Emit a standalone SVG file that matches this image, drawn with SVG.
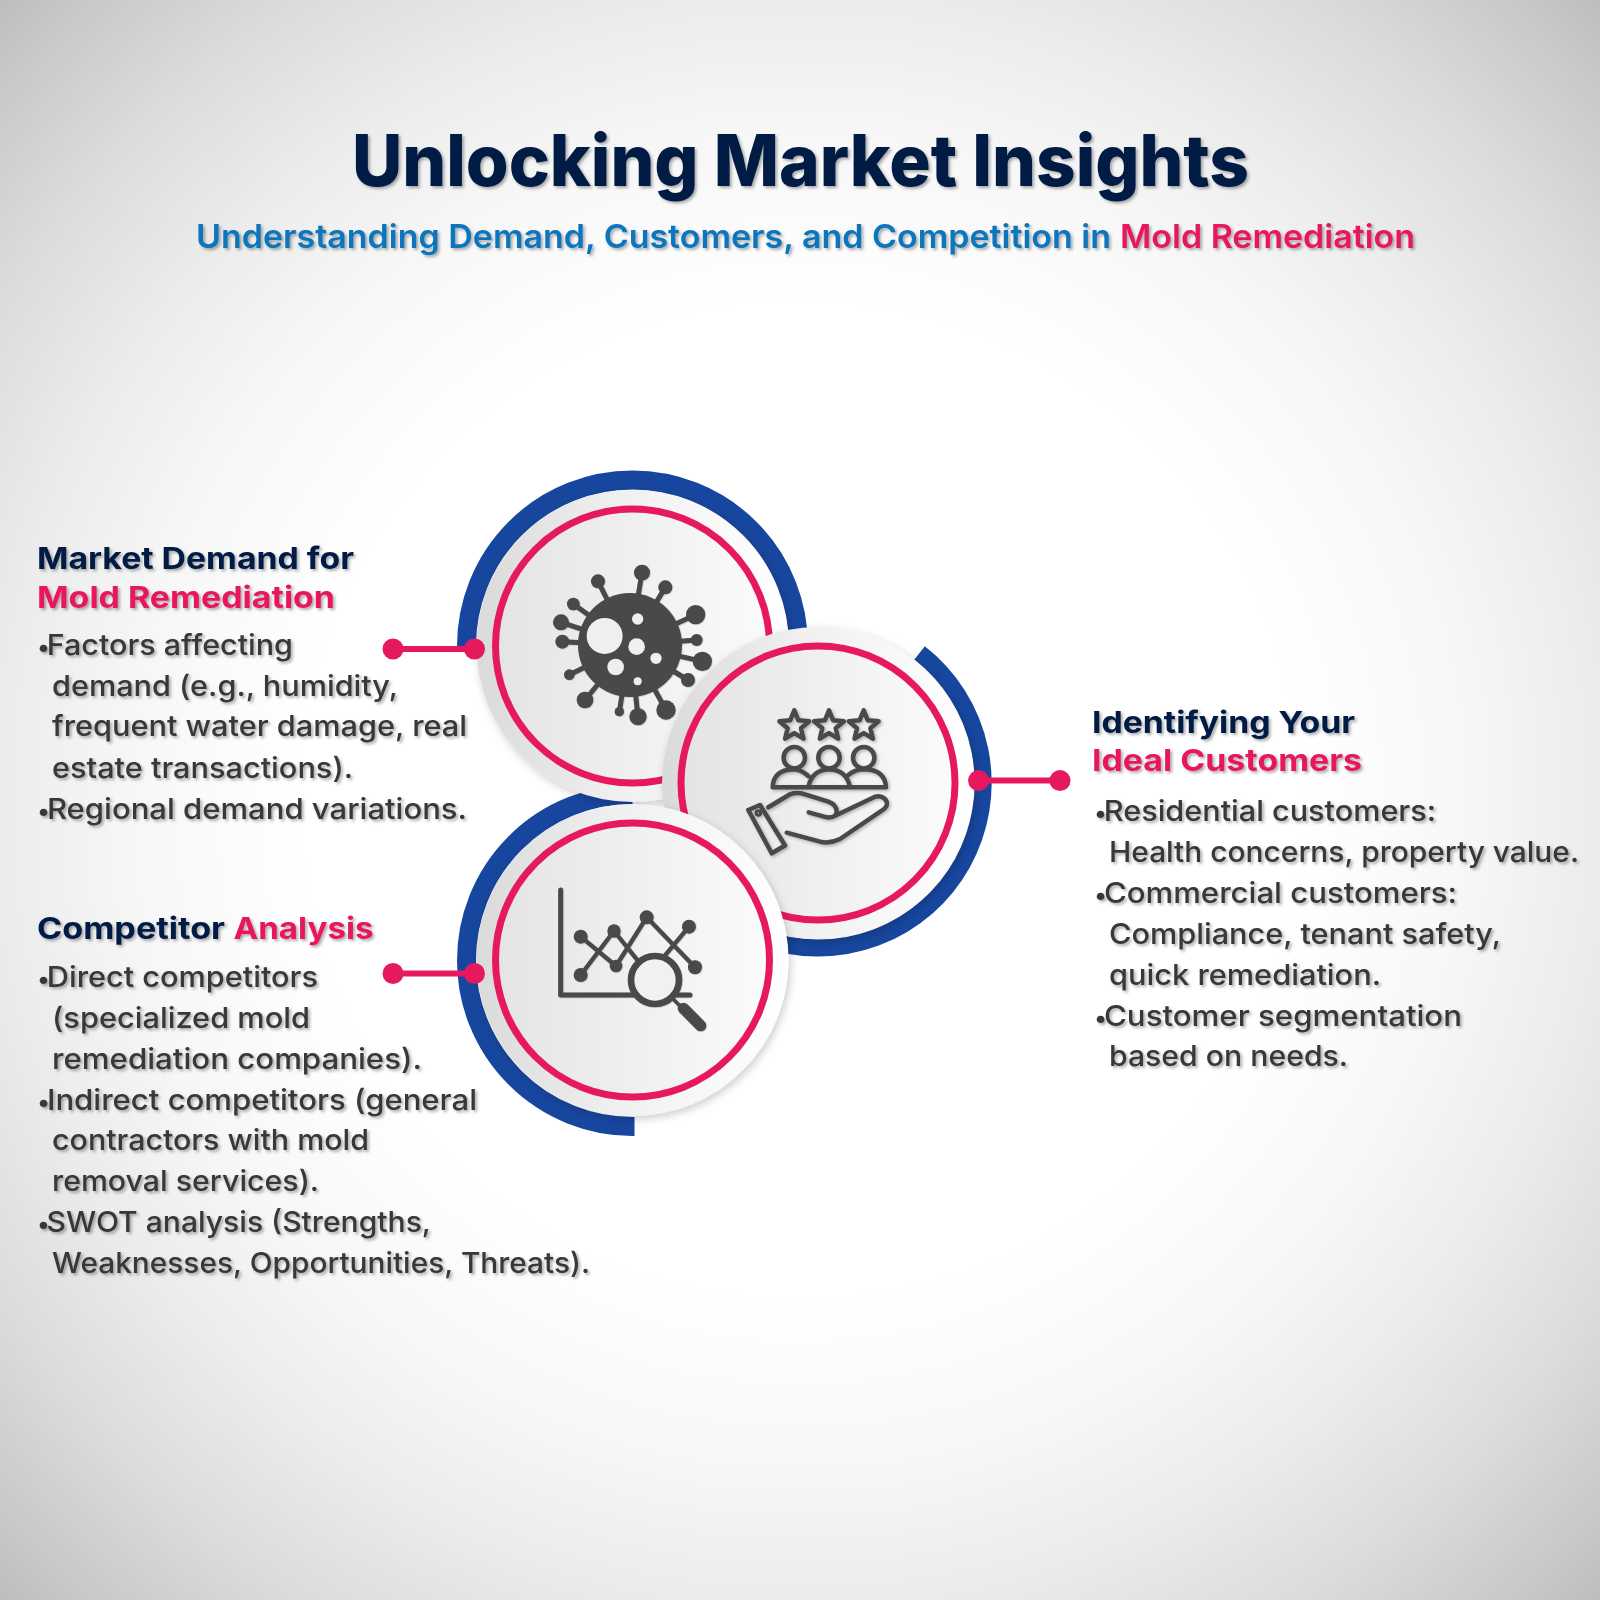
<svg xmlns="http://www.w3.org/2000/svg" width="1600" height="1600" viewBox="0 0 1600 1600">
<style>
text{font-family:Inter,"Noto Sans","Liberation Sans",sans-serif}
.title{font-size:71px;font-weight:800;fill:#021a44;filter:url(#ts)}
.sub{font-size:33px;font-weight:600;filter:url(#ts)}
.blue{fill:#0b74bb}
.navy{fill:#021a44}
.pink{fill:#e6195f}
.h{font-size:30px;font-weight:700;filter:url(#ts)}
.b{font-size:29px;font-weight:500;fill:#373737;filter:url(#ts)}
.bl{font-size:23px;letter-spacing:-3px}
.ring{fill:none;stroke:#17469e;stroke-width:19}
.disc{fill:url(#dg);filter:url(#ds)}
.inner{fill:url(#ig);stroke:#e6195f;stroke-width:7}
.dot{fill:#e6195f}
.link{stroke:#e6195f;stroke-width:6;fill:none}
.ic{fill:none;stroke:#484848;stroke-width:4.500;stroke-linejoin:round;stroke-linecap:round}
</style>
<defs>
<radialGradient id="bg" gradientUnits="userSpaceOnUse" cx="800" cy="800" r="1131">
<stop offset="0" stop-color="#fff"/><stop offset=".44" stop-color="#fff"/><stop offset=".59" stop-color="#f7f7f7"/><stop offset=".707" stop-color="#ececec"/><stop offset=".83" stop-color="#dcdcdc"/><stop offset=".96" stop-color="#c6c6c6"/><stop offset="1" stop-color="#bdbdbd"/>
</radialGradient>
<linearGradient id="dg" x1="0" y1="0" x2="1" y2="0"><stop offset="0" stop-color="#dadada"/><stop offset=".45" stop-color="#f0f0f0"/><stop offset="1" stop-color="#fff"/></linearGradient>
<linearGradient id="ig" x1="0" y1="0" x2="1" y2="0"><stop offset="0" stop-color="#e4e4e4"/><stop offset="1" stop-color="#fbfbfb"/></linearGradient>
<filter id="ds" x="-20%" y="-20%" width="140%" height="140%"><feDropShadow dx="2" dy="3" stdDeviation="4" flood-color="#000" flood-opacity=".2"/></filter>
<filter id="ts" x="-5%" y="-20%" width="110%" height="150%"><feDropShadow dx="2" dy="2" stdDeviation="1.6" flood-color="#000" flood-opacity=".33"/></filter>
<filter id="is" x="-10%" y="-10%" width="125%" height="125%"><feDropShadow dx="1.500" dy="1.500" stdDeviation="1.500" flood-color="#000" flood-opacity=".28"/></filter>
<polygon id="star" points="0,-15.700 4.150,-5.700 14.900,-4.800 6.700,2.200 9.200,12.700 0,7.100 -9.200,12.700 -6.700,2.200 -14.900,-4.800 -4.150,-5.700"/>
</defs>
<rect width="1600" height="1600" fill="url(#bg)"/>

<g id="header">
<text class="title" x="352" y="186" textLength="897" lengthAdjust="spacingAndGlyphs">Unlocking Market Insights</text>
<text class="sub blue" x="196" y="248" textLength="915" lengthAdjust="spacingAndGlyphs">Understanding Demand, Customers, and Competition in</text>
<text class="sub pink" x="1120" y="248" textLength="295" lengthAdjust="spacingAndGlyphs">Mold Remediation</text>
</g>

<g id="rings">
<path class="ring" d="M466.500 646A166 166 0 0 1 798.500 646"/>
<path class="ring" style="stroke-width:17" d="M919.600 652.900A165 165 0 0 1 761.500 938"/>
<path class="ring" d="M634.500 1126.500H632.500A166 166 0 0 1 632.500 794.500"/>
</g>

<g id="node-market">
<circle class="disc" cx="632.500" cy="646" r="156"/>
<circle class="inner" cx="632.500" cy="646" r="137"/>
<g id="icon-virus" transform="translate(530 540) scale(.3333)" filter="url(#is)">
<g stroke="#484848" stroke-width="15" stroke-linecap="round">
<path d="M300 315L336 98M300 315L204 124M300 315L406 142M300 315L130 192M300 315L93 247M300 315L97 305M300 315L497 224M300 315L500 300M300 315L517 364M300 315L474 420M300 315L408 510M300 315L324 530M300 315L268 515M300 315L165 480M300 315L118 404"/>
</g>
<g fill="#484848">
<circle cx="300" cy="315" r="156"/>
<circle cx="336" cy="98" r="24"/><circle cx="204" cy="124" r="21"/><circle cx="406" cy="142" r="21"/><circle cx="130" cy="192" r="19"/><circle cx="93" cy="247" r="24"/><circle cx="97" cy="305" r="21"/><circle cx="497" cy="224" r="29"/><circle cx="500" cy="300" r="18"/><circle cx="517" cy="364" r="29"/><circle cx="474" cy="420" r="21"/><circle cx="408" cy="510" r="29"/><circle cx="324" cy="530" r="26"/><circle cx="268" cy="515" r="14"/><circle cx="165" cy="480" r="25"/><circle cx="118" cy="404" r="16"/>
</g>
<g fill="#efefef">
<circle cx="224" cy="288" r="54"/><circle cx="323" cy="237" r="17"/><circle cx="320" cy="320" r="25"/><circle cx="378" cy="355" r="17"/><circle cx="257" cy="381" r="25"/><circle cx="323" cy="424" r="12"/>
</g>
</g>
<text class="h navy" x="37" y="569" textLength="317" lengthAdjust="spacingAndGlyphs">Market Demand for</text>
<text class="h pink" x="37" y="608" textLength="298" lengthAdjust="spacingAndGlyphs">Mold Remediation</text>
<text class="b" x="37" y="655" textLength="256" lengthAdjust="spacingAndGlyphs"><tspan class="bl">•</tspan>Factors affecting</text>
<text class="b" x="52" y="695.500" textLength="346" lengthAdjust="spacingAndGlyphs">demand (e.g., humidity,</text>
<text class="b" x="52" y="736" textLength="415" lengthAdjust="spacingAndGlyphs">frequent water damage, real</text>
<text class="b" x="52" y="777.500" textLength="301" lengthAdjust="spacingAndGlyphs">estate transactions).</text>
<text class="b" x="37" y="818.500" textLength="430" lengthAdjust="spacingAndGlyphs"><tspan class="bl">•</tspan>Regional demand variations.</text>
</g>

<g id="node-customers">
<circle class="disc" cx="818" cy="783" r="156"/>
<circle class="inner" cx="818" cy="783" r="137"/>
<g id="icon-customers" class="ic" filter="url(#is)">
<use href="#star" x="794.300" y="726"/><use href="#star" x="829" y="726"/><use href="#star" x="863.700" y="726"/>
<circle cx="794.300" cy="757.700" r="10.700"/><circle cx="829" cy="757.700" r="10.700"/><circle cx="863.700" cy="757.700" r="10.700"/>
<path d="M772.700 787.300H886M772.700 787.300Q773.300 770 793.300 769.300Q802 770 808.300 776M808.300 787.300Q811.700 770 829 769.300Q846.700 770 850 787.300M848.300 775Q855 769.300 865 769.300Q885 770 886 787.300"/>
<path d="M748.300 810L760 805L785 845.500L771.700 853.300Z"/>
<circle cx="758.300" cy="813" r="1.500"/>
<path d="M768.300 807.300L790 794.300Q796.700 791.700 805 794.300L828.300 801.700Q836.700 805 836.700 811.700Q836 818.300 826.700 817.300L808.700 812.300"/>
<path d="M836.700 815L875 796.700Q883.300 795 886.700 801.700Q888.300 806.700 881.700 810.700L840 839Q830 844 820 841.700L786.700 832.700"/>
</g>
<text class="h navy" x="1092" y="732.700" textLength="263" lengthAdjust="spacingAndGlyphs">Identifying Your</text>
<text class="h pink" x="1092" y="771" textLength="270" lengthAdjust="spacingAndGlyphs">Ideal Customers</text>
<text class="b" x="1094" y="820.500" textLength="342" lengthAdjust="spacingAndGlyphs"><tspan class="bl">•</tspan>Residential customers:</text>
<text class="b" x="1109" y="862" textLength="470" lengthAdjust="spacingAndGlyphs">Health concerns, property value.</text>
<text class="b" x="1094" y="903" textLength="363" lengthAdjust="spacingAndGlyphs"><tspan class="bl">•</tspan>Commercial customers:</text>
<text class="b" x="1109" y="944" textLength="392" lengthAdjust="spacingAndGlyphs">Compliance, tenant safety,</text>
<text class="b" x="1109" y="985" textLength="272" lengthAdjust="spacingAndGlyphs">quick remediation.</text>
<text class="b" x="1094" y="1025.500" textLength="368" lengthAdjust="spacingAndGlyphs"><tspan class="bl">•</tspan>Customer segmentation</text>
<text class="b" x="1109" y="1066" textLength="239" lengthAdjust="spacingAndGlyphs">based on needs.</text>
</g>

<g id="node-competitor">
<circle class="disc" cx="632.500" cy="960" r="156"/>
<circle class="inner" cx="632.500" cy="960" r="137"/>
<g id="icon-chart" transform="translate(540 870) scale(.3333)" filter="url(#is)">
<g fill="none" stroke="#484848" stroke-linecap="round" stroke-linejoin="round">
<path stroke-width="15" d="M62 60V375H280M410 375H450"/>
<path stroke-width="13" d="M122 200L228 288L320 142L465 292M122 315L222 183L300 280M447 170L370 262"/>
</g>
<g fill="#484848">
<circle cx="122" cy="200" r="21"/><circle cx="222" cy="183" r="20"/><circle cx="320" cy="142" r="21"/><circle cx="447" cy="170" r="21"/><circle cx="122" cy="315" r="21"/><circle cx="228" cy="288" r="19"/><circle cx="465" cy="292" r="21"/>
</g>
<circle cx="345" cy="330" r="72" fill="#f1f1f1" stroke="#484848" stroke-width="20"/>
<path fill="none" stroke="#484848" stroke-width="11" d="M400 388L430 418"/>
<path fill="none" stroke="#484848" stroke-width="34" stroke-linecap="round" d="M430 415L482 467"/>
</g>
<text class="h navy" x="37" y="939" textLength="188" lengthAdjust="spacingAndGlyphs">Competitor</text>
<text class="h pink" x="233.500" y="939" textLength="140" lengthAdjust="spacingAndGlyphs">Analysis</text>
<text class="b" x="37" y="987" textLength="281" lengthAdjust="spacingAndGlyphs"><tspan class="bl">•</tspan>Direct competitors</text>
<text class="b" x="52" y="1027.500" textLength="258" lengthAdjust="spacingAndGlyphs">(specialized mold</text>
<text class="b" x="52" y="1069" textLength="370" lengthAdjust="spacingAndGlyphs">remediation companies).</text>
<text class="b" x="37" y="1110" textLength="440" lengthAdjust="spacingAndGlyphs"><tspan class="bl">•</tspan>Indirect competitors (general</text>
<text class="b" x="52" y="1150" textLength="317" lengthAdjust="spacingAndGlyphs">contractors with mold</text>
<text class="b" x="52" y="1191" textLength="267" lengthAdjust="spacingAndGlyphs">removal services).</text>
<text class="b" x="37" y="1232" textLength="394" lengthAdjust="spacingAndGlyphs"><tspan class="bl">•</tspan>SWOT analysis (Strengths,</text>
<text class="b" x="52" y="1272.500" textLength="538" lengthAdjust="spacingAndGlyphs">Weaknesses, Opportunities, Threats).</text>
</g>

<g id="connectors">
<path class="link" d="M393 649H474.500"/><circle class="dot" cx="393" cy="649" r="10.500"/><circle class="dot" cx="474.500" cy="649" r="10.500"/>
<path class="link" d="M978.600 780.600H1060"/><circle class="dot" cx="978.600" cy="780.600" r="10.500"/><circle class="dot" cx="1060" cy="780.600" r="10.500"/>
<path class="link" d="M393 973.500H474.500"/><circle class="dot" cx="393" cy="973.500" r="10.500"/><circle class="dot" cx="474.500" cy="973.500" r="10.500"/>
</g>
</svg>
